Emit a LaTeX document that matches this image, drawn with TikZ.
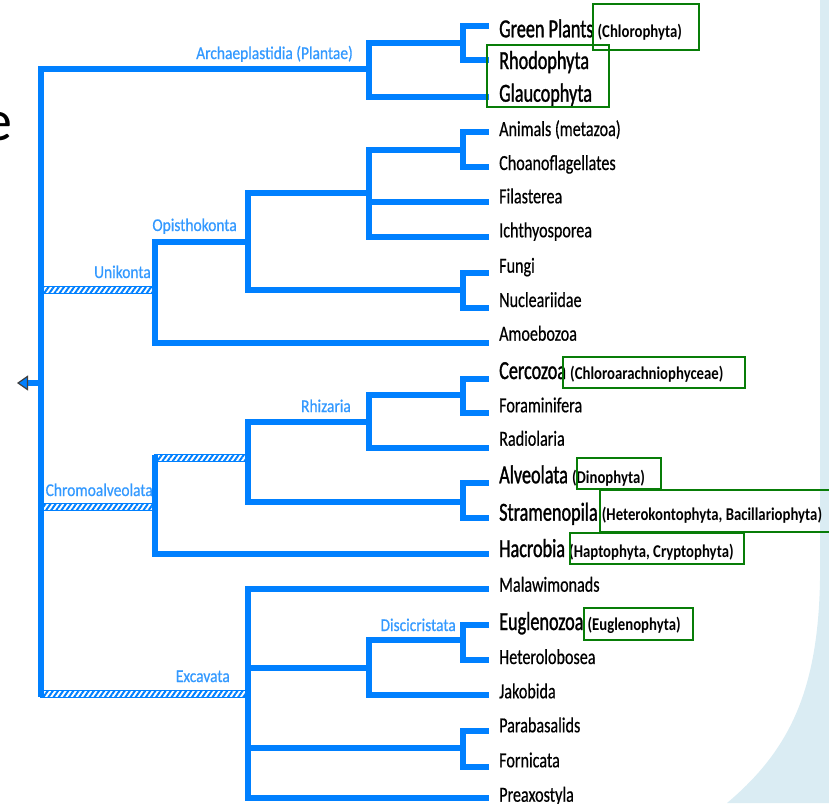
\documentclass[tikz,border=0pt]{standalone}
\usepackage{fontspec}
\setmainfont{Carlito}
\newfontfamily\leaffont{Carlito}[FakeStretch=0.75,FakeBold=0.5]
\newfontfamily\bigfont{Carlito}[FakeStretch=0.70,FakeBold=1.2]
\newfontfamily\cladefont{Carlito}[FakeStretch=0.86,FakeBold=0.6]
\newfontfamily\parenfont{Carlito}[FakeStretch=0.82]
\newcommand\subtaxon[1]{{\parenfont\bfseries\fontsize{18}{20}\selectfont(#1)}}
\usetikzlibrary{arrows.meta,calc,patterns.meta}
\definecolor{treeblue}{RGB}{0,128,255}
\definecolor{cladeblue}{RGB}{51,153,255}
\definecolor{boxgreen}{RGB}{8,125,8}
\definecolor{slideblue}{RGB}{218,236,243}
\begin{document}
\begin{tikzpicture}[x=1pt,y=-1pt,
  branch/.style={draw=treeblue,line width=6pt},
  hatchbar/.style={draw=treeblue,line width=1.3pt,fill=white,
    postaction={pattern={Lines[angle=55,distance=4.2pt,line width=2pt]},pattern color=treeblue}},
  leaftext/.style={anchor=base west,inner sep=0pt,font=\leaffont\fontsize{21.5}{24}\selectfont},
  bigtext/.style={anchor=base west,inner sep=0pt,font=\bigfont\fontsize{26}{28}\selectfont},
  clade/.style={anchor=base east,inner sep=0pt,text=cladeblue,font=\cladefont\fontsize{18}{20}\selectfont},
  gbox/.style={draw=boxgreen,line width=2.6pt}]
\useasboundingbox (0,0) rectangle (829,803);
\fill[slideblue] (820,0) -- (820,580) .. controls (818,690) and (790,750) .. (727,803) -- (829,803) -- (829,0) -- cycle;
\node[anchor=base east,inner sep=0pt,font=\fontsize{58}{60}\selectfont] (slide-e) at (13,140) {e};

\coordinate (root) at (41,383);
\coordinate (tip) at (17,383);
\coordinate (arch) at (369,69);
\coordinate (green) at (463,43);
\coordinate (uni) at (155,290);
\coordinate (opi) at (248,242);
\coordinate (holo) at (369,193);
\coordinate (anim) at (463,150);
\coordinate (fung) at (463,290);
\coordinate (chrom) at (155,507);
\coordinate (sar) at (248,458);
\coordinate (rhiz) at (369,422);
\coordinate (cerc) at (463,395);
\coordinate (alst) at (463,502);
\coordinate (exc) at (248,694);
\coordinate (disc) at (369,668);
\coordinate (eugl) at (463,640);
\coordinate (para) at (463,748);

\foreach \n/\ty/\by/\s/\t in {
  gp/26/37.3/bigtext/{Green Plants \subtaxon{Chlorophyta}},
  rho/60/69/bigtext/{Rhodophyta},
  gla/97/101.7/bigtext/{Glaucophyta},
  ani/132/136/leaftext/{Animals (metazoa)},
  cho/167/170/leaftext/{Choanoflagellates},
  fil/202/203.3/leaftext/{Filasterea},
  ich/237/237.3/leaftext/{Ichthyosporea},
  fng/273/272.7/leaftext/{Fungi},
  nuc/308/307/leaftext/{Nucleariidae},
  amo/343/340.7/leaftext/{Amoebozoa},
  cer/379/379/bigtext/{Cercozoa \subtaxon{Chloroarachniophyceae}},
  fora/413/412.3/leaftext/{Foraminifera},
  rad/448/445.7/leaftext/{Radiolaria},
  alv/483/483.3/bigtext/{Alveolata \subtaxon{Dinophyta}},
  stra/518/520.7/bigtext/{Stramenopila \subtaxon{Heterokontophyta, Bacillariophyta}},
  hac/554/557/bigtext/{Hacrobia \subtaxon{Haptophyta, Cryptophyta}},
  mal/589/591.7/leaftext/{Malawimonads},
  eug/625/630/bigtext/{Euglenozoa \subtaxon{Euglenophyta}},
  het/660/664/leaftext/{Heterolobosea},
  jak/695/698.3/leaftext/{Jakobida},
  pab/731/732.3/leaftext/{Parabasalids},
  frn/767/767.3/leaftext/{Fornicata},
  pre/798/801.7/leaftext/{Preaxostyla}}
{\coordinate (\n) at (489,\ty);
 \node[\s] (t-\n) at (499,\by) {\t};}

\path[hatchbar] ($(root|-uni)+(0,-3.25)$) rectangle ($(uni)+(0,3.25)$);
\path[hatchbar] ($(root|-chrom)+(0,-3.25)$) rectangle ($(chrom)+(0,3.25)$);
\path[hatchbar] ($(chrom|-sar)+(0,-3.25)$) rectangle ($(sar)+(0,3.25)$);
\path[hatchbar] ($(root|-exc)+(0,-3.25)$) rectangle ($(exc)+(0,3.25)$);

\draw[branch] (root) |- (arch);
\draw[branch] (root) -- ($(root|-exc)+(0,3)$);
\draw[branch] (chrom) -- ($(chrom|-sar)+(0,-3)$);
\draw[branch,-{Triangle[length=11pt,width=15pt,color=black!75,fill=treeblue,line width=1.2pt]}] (root) -- (tip);
\foreach \a/\b in {arch/green,arch/gla,green/gp,green/rho,uni/opi,uni/amo,opi/holo,opi/fung,
  holo/anim,holo/fil,holo/ich,anim/ani,anim/cho,fung/fng,fung/nuc,chrom/hac,sar/rhiz,sar/alst,
  rhiz/cerc,rhiz/rad,cerc/cer,cerc/fora,alst/alv,alst/stra,exc/mal,exc/disc,exc/para,exc/pre,
  disc/eugl,disc/jak,eugl/eug,eugl/het,para/pab,para/frn}
  \draw[branch] (\a) |- (\b);

\node[clade] (l-arch) at (353,59) {Archaeplastidia (Plantae)};
\node[clade] (l-uni) at (151,278) {Unikonta};
\node[clade] (l-opi) at (237,231) {Opisthokonta};
\node[clade] (l-rhiz) at (351,412) {Rhizaria};
\node[clade] (l-chrom) at (153,496) {Chromoalveolata};
\node[clade] (l-exc) at (230,682) {Excavata};
\node[clade] (l-disc) at (456,631) {Discicristata};

\draw[gbox] (593,4) rectangle (699,50);
\draw[gbox] (487,45) rectangle (609,107);
\draw[gbox] (563,357) rectangle (745,388);
\draw[gbox] (577,458) rectangle (661,489);
\draw[gbox] (600,490) rectangle (835,532);
\draw[gbox] (570,533) rectangle (744,564);
\draw[gbox] (584,608) rectangle (693,640);
\end{tikzpicture}
\end{document}
